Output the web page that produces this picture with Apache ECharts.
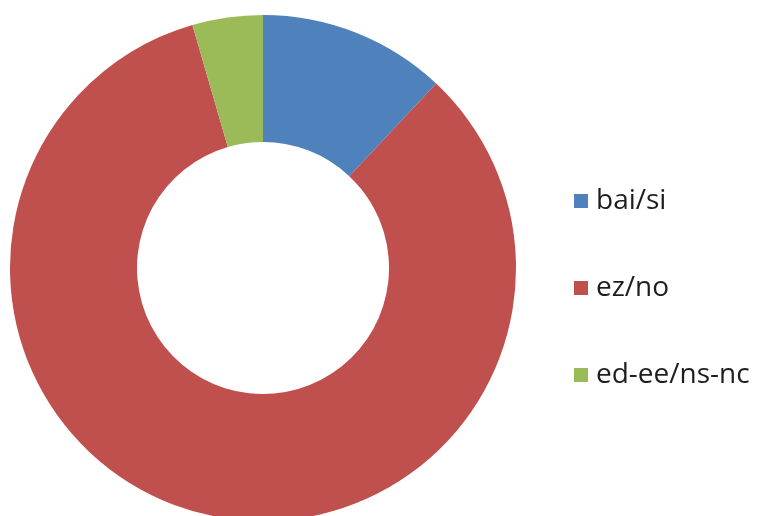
<!DOCTYPE html>
<html>
<head>
<meta charset="utf-8">
<script src="https://cdn.jsdelivr.net/npm/echarts@6/dist/echarts.min.js"></script>
<style>html,body{margin:0;padding:0;background:#fff;}#c{width:758px;height:516px;}</style>
</head>
<body>
<div id="c"></div>
<script>
const categories = ['bai/si', 'ez/no', 'ed-ee/ns-nc'];
const values = [12, 83.5, 4.5];
const colors = ['#4F81BD', '#C0504D', '#9BBB59'];

const chart = echarts.init(document.getElementById('c'));
chart.setOption({
  animation: false,
  color: colors,
  legend: {
    orient: 'vertical',
    left: 574,
    top: 187,
    padding: 0,
    itemWidth: 14,
    itemHeight: 14,
    itemGap: 59,
    icon: 'rect',
    data: categories,
    textStyle: { fontFamily: 'Open Sans', fontSize: 28, lineHeight: 28, color: '#1e1e1e', padding: [0, 0, 0, 3] }
  },
  series: [{
    type: 'pie',
    center: [263, 268],
    radius: [126, 253],
    startAngle: 90,
    clockwise: true,
    label: { show: false },
    labelLine: { show: false },
    emphasis: { disabled: true },
    itemStyle: { borderWidth: 0 },
    data: categories.map((n, i) => ({ name: n, value: values[i] }))
  }]
});
</script>
</body>
</html>
